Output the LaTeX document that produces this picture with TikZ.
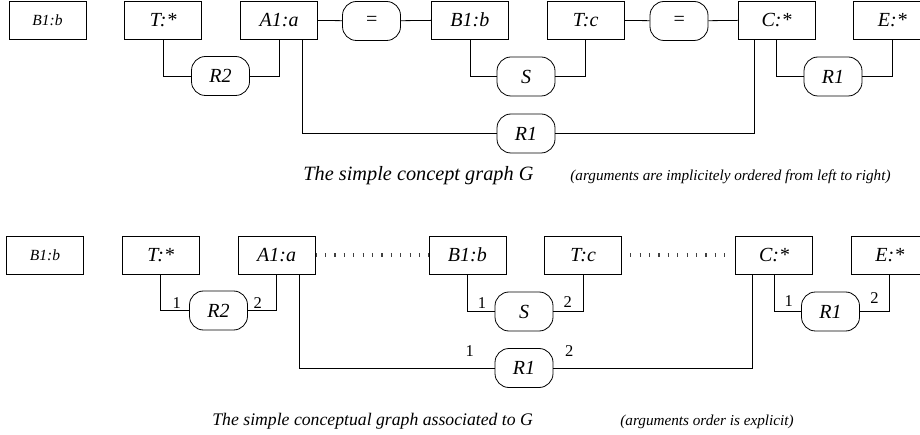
\documentclass[tikz,border=0pt]{standalone}
\usepackage{fontspec}
\setmainfont{Liberation Serif}
\usetikzlibrary{positioning}

\begin{document}
\begin{tikzpicture}[x=1pt, y=-1pt, node distance=38pt, line width=0.8pt]

        % Styles
        \tikzstyle{concept} = [draw, rectangle, minimum height=38pt, minimum width=77pt, inner sep=0pt, font=\fontsize{20}{22}\selectfont\itshape]
        \tikzstyle{smallconcept} = [concept, font=\fontsize{15.5}{17}\selectfont\itshape]
        \tikzstyle{relation} = [draw, rectangle, rounded corners=14pt, minimum height=39pt, minimum width=58pt, inner sep=0pt, font=\fontsize{20}{22}\selectfont\itshape]
        \tikzstyle{num} = [font=\fontsize{16.5}{18}\selectfont, inner sep=1pt]
        \tikzstyle{coref} = [line width=3.5pt, black!75, dash pattern=on 1.2pt off 8.2pt]
        \tikzstyle{caption} = [anchor=base west, inner sep=0pt]
        \tikzstyle{note} = [anchor=base west, inner sep=0pt, font=\fontsize{15.2}{17}\selectfont\itshape]

        \useasboundingbox (0,0) rectangle (920,435);

        % Nodes (simple concept graph)
        \node [smallconcept] (bone) at (47.5,20) {B1:b};
        \node [concept, right=of bone] (tstar) {T:*};
        \node [concept, right=of tstar] (aone) {A1:a};
        \node [concept, right=113pt of aone] (btwo) {B1:b};
        \node [concept, right=of btwo] (tc) {T:c};
        \node [concept, right=113pt of tc] (cstar) {C:*};
        \node [concept, right=of cstar] (estar) {E:*};

        \node [relation] (eqone) at (371.5,21) {=};
        \node [relation] (eqtwo) at (679,21) {=};
        \node [relation] (rtwo) at (220.5,76) {R2};
        \node [relation] (s) at (526,76.5) {S};
        \node [relation] (rone) at (833,76.5) {R1};
        \node [relation] (rbig) at (526,133.5) {R1};

        % Lines
        \draw (aone) -- (eqone);
        \draw (eqone) -- (btwo);
        \draw (tc) -- (eqtwo);
        \draw (eqtwo) -- (cstar);
        \draw (tstar) |- (rtwo);
        \draw (rtwo) -| (aone);
        \draw (btwo) |- (s);
        \draw (s) -| (tc);
        \draw (cstar) |- (rone);
        \draw (rone) -| (estar);
        \draw ([xshift=23pt]aone.south) |- (rbig);
        \draw (rbig) -| ([xshift=-22pt]cstar.south);

        \node [caption, font=\fontsize{20.3}{24}\selectfont\itshape] (capone) at (303,181) {The simple concept graph G};
        \node [note] (noteone) at (570,181) {(arguments are implicitely ordered from left to right)};

        % Nodes (associated conceptual graph)
        \node [smallconcept] (bone2) at (45,255) {B1:b};
        \node [concept, right=of bone2] (tstar2) {T:*};
        \node [concept, right=of tstar2] (aone2) {A1:a};
        \node [concept, right=113pt of aone2] (btwo2) {B1:b};
        \node [concept, right=of btwo2] (tc2) {T:c};
        \node [concept, right=113pt of tc2] (cstar2) {C:*};
        \node [concept, right=of cstar2] (estar2) {E:*};

        \node [relation] (rtwo2) at (218.5,310.5) {R2};
        \node [relation] (s2) at (524,311.5) {S};
        \node [relation] (rone2) at (830.5,311.5) {R1};
        \node [relation] (rbig2) at (524,368) {R1};

        % Lines
        \draw [coref] (aone2) -- (btwo2);
        \draw [coref, shorten <=8pt, shorten >=4pt] (tc2) -- (cstar2);
        \draw (tstar2) |- node[num, pos=0.78, above=1pt] {1} (rtwo2);
        \draw (rtwo2) -| node[num, pos=0.17, above=1pt] {2} (aone2);
        \draw (btwo2) |- node[num, pos=0.77, above=2pt] {1} (s2);
        \draw (s2) -| node[num, pos=0.24, above=3pt] {2} (tc2);
        \draw (cstar2) |- node[num, pos=0.77, above=4pt] {1} (rone2);
        \draw (rone2) -| node[num, pos=0.245, above=7pt] {2} (estar2);
        \draw ([xshift=23pt]aone2.south) |- node[num, pos=0.936, above=10pt] {1} (rbig2);
        \draw (rbig2) -| node[num, pos=0.04, above=10pt] {2} ([xshift=-22pt]cstar2.south);

        \node [caption, font=\fontsize{17.7}{21}\selectfont\itshape] (captwo) at (212,425) {The simple conceptual graph associated to G};
        \node [note] (notetwo) at (620,425) {(arguments order is explicit)};

\end{tikzpicture}
\end{document}
